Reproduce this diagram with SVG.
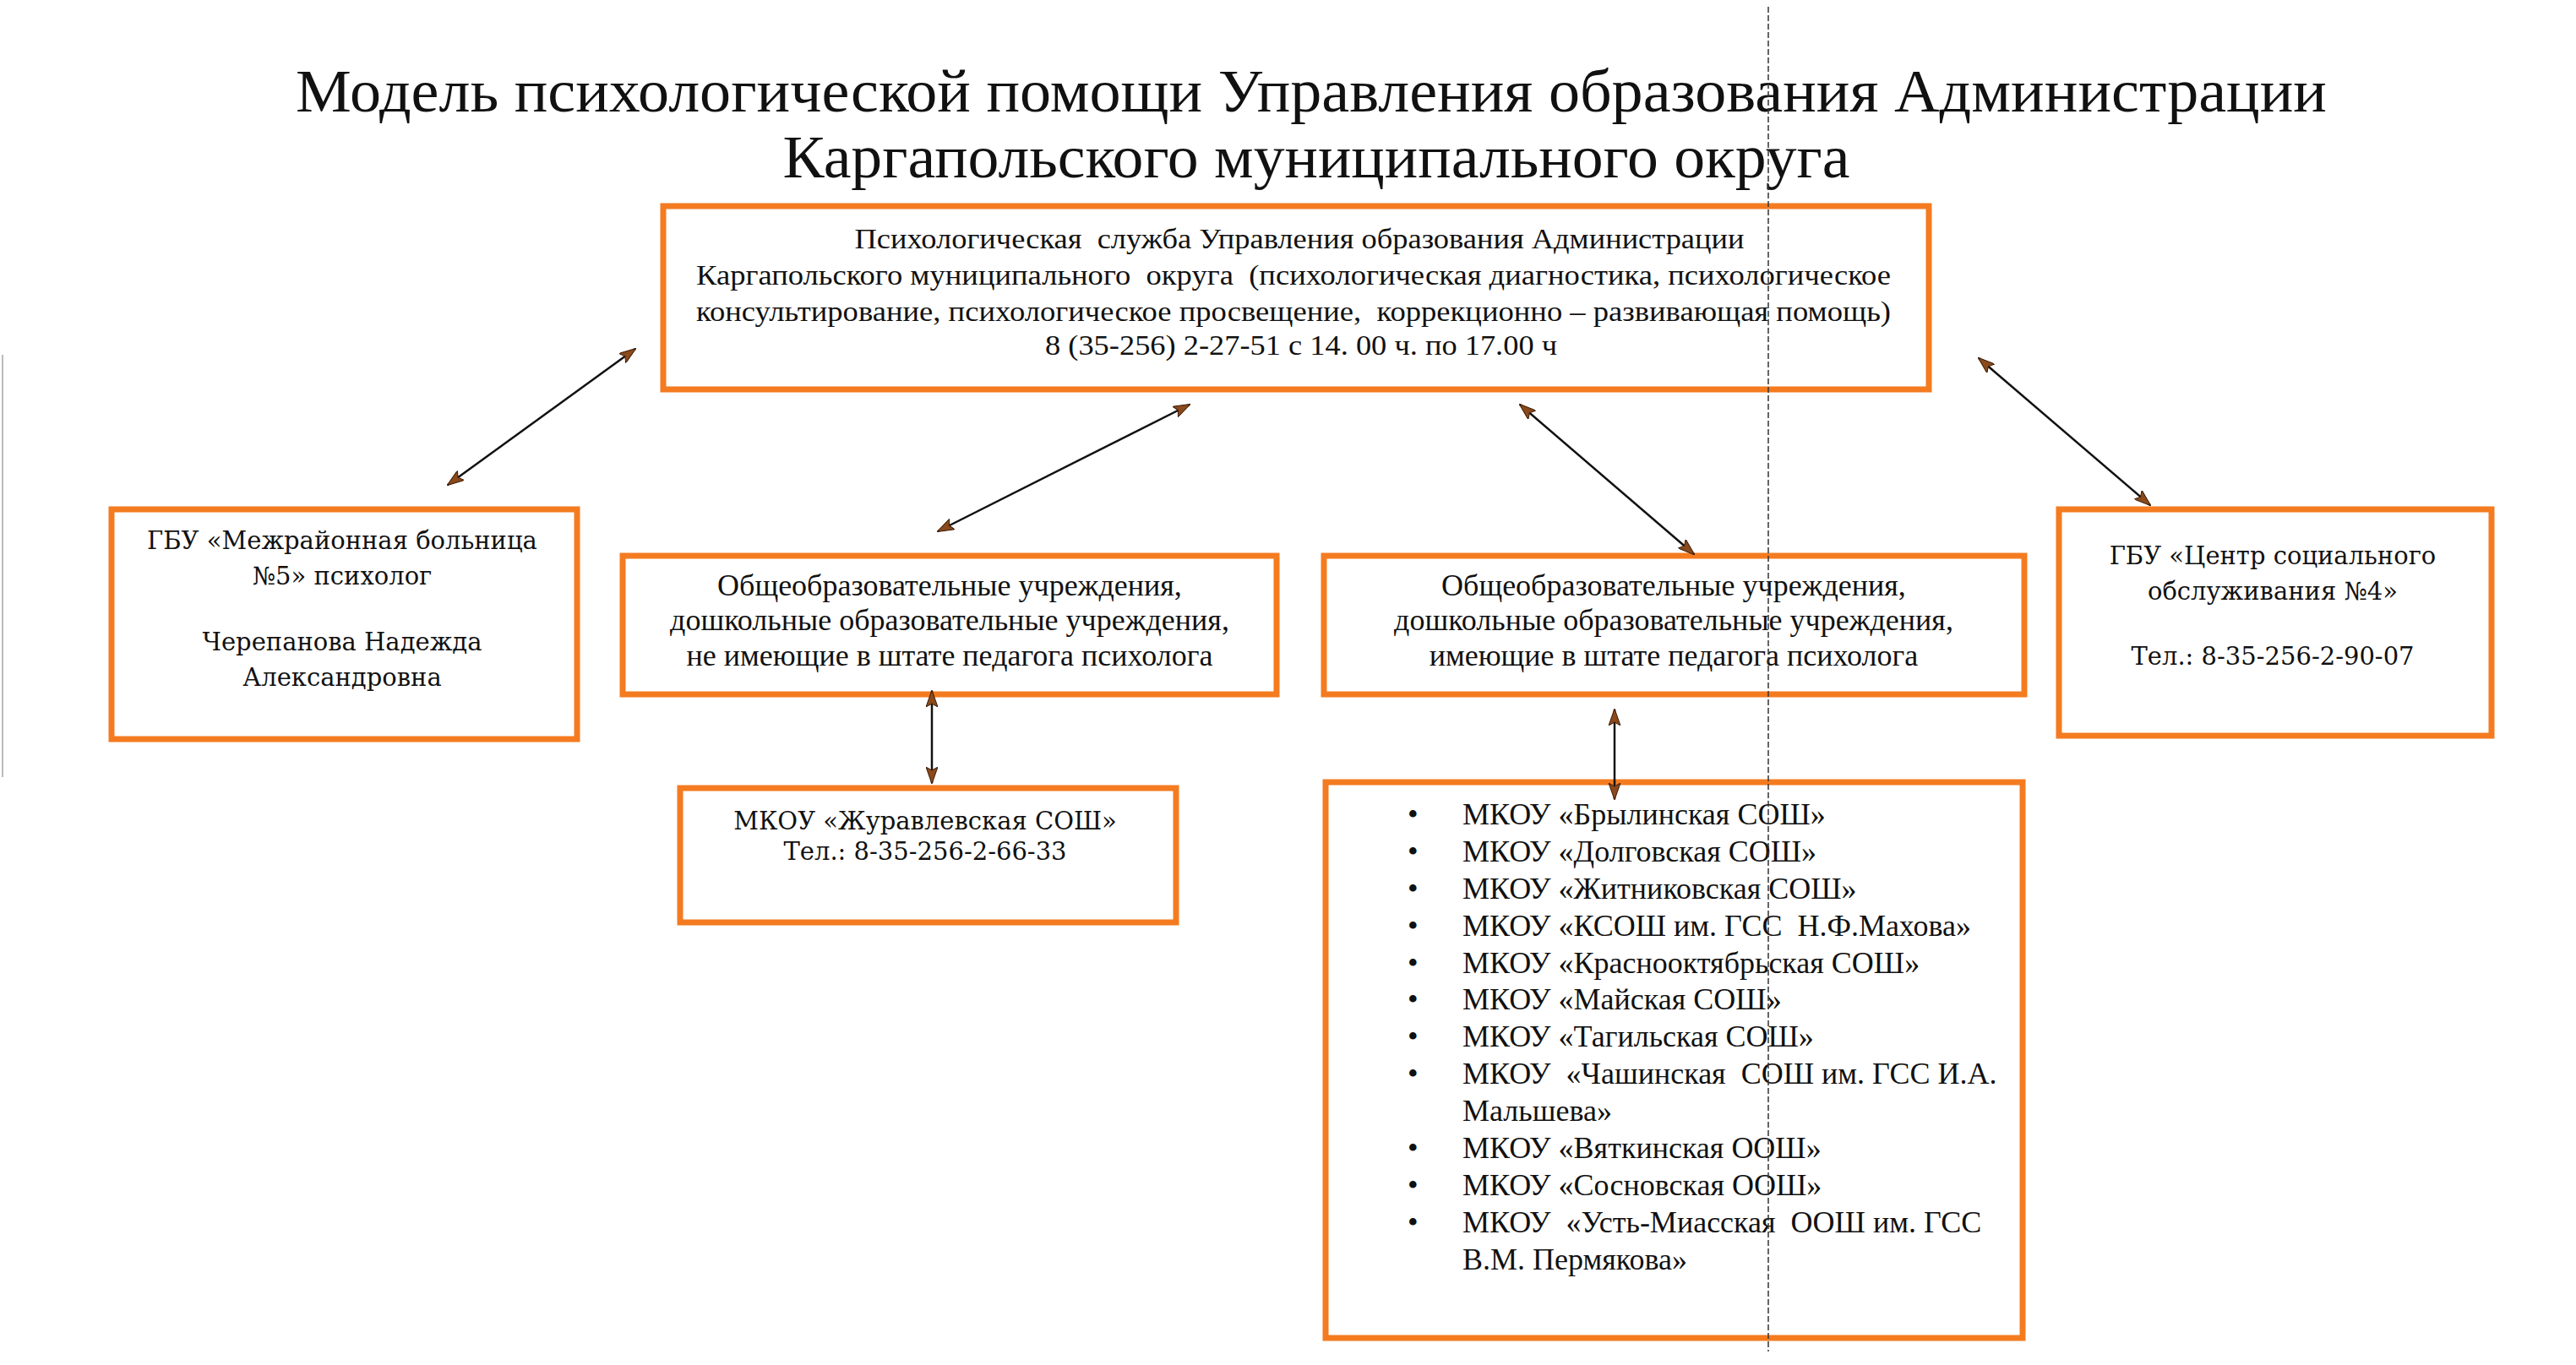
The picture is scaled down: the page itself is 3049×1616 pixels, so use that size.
<svg xmlns="http://www.w3.org/2000/svg" width="3049" height="1616" viewBox="0 0 3049 1616">
<defs>
<style>
.box{fill:#ffffff;stroke:#f47b20;stroke-width:7}
.t{font-family:"Liberation Serif","Times New Roman",serif;fill:#111;text-anchor:middle;white-space:pre}
.s{font-family:"DejaVu Serif","Liberation Serif",serif;fill:#111;text-anchor:middle}
.title{font-size:72px}
.main{font-size:34px}
.mid{font-size:36px}
.slab{font-size:29px}
.li{font-family:"Liberation Serif","Times New Roman",serif;fill:#111;font-size:36px;white-space:pre}
.conn{stroke:#111;stroke-width:2.5;fill:none;marker-start:url(#ah);marker-end:url(#ah)}
</style>
<marker id="ah" viewBox="0 0 20 14" refX="19" refY="7" markerWidth="20" markerHeight="14" markerUnits="userSpaceOnUse" orient="auto-start-reverse">
<path d="M0,0 L20,7 L0,14 L4,7 z" fill="#8a4a1c" stroke="#3a1a00" stroke-width="1"/>
</marker>
</defs>
<rect x="0" y="0" width="3049" height="1616" fill="#ffffff"/>

<g id="title">
<text class="t title" x="1552" y="132" textLength="2404" lengthAdjust="spacingAndGlyphs">Модель психологической помощи Управления образования Администрации</text>
<text class="t title" x="1558" y="210" textLength="1263" lengthAdjust="spacingAndGlyphs">Каргапольского муниципального округа</text>
</g>

<g id="node-main">
<rect class="box" x="785" y="244" width="1498" height="217"/>
<text class="t main" x="1538" y="294" textLength="1053" lengthAdjust="spacingAndGlyphs" xml:space="preserve">Психологическая  служба Управления образования Администрации</text>
<text class="t main" x="1531" y="337" textLength="1414" lengthAdjust="spacingAndGlyphs" xml:space="preserve">Каргапольского муниципального  округа  (психологическая диагностика, психологическое</text>
<text class="t main" x="1531" y="380" textLength="1414" lengthAdjust="spacingAndGlyphs" xml:space="preserve">консультирование, психологическое просвещение,  коррекционно – развивающая помощь)</text>
<text class="t main" x="1540" y="420" textLength="606" lengthAdjust="spacingAndGlyphs">8 (35-256) 2-27-51 с 14. 00 ч. по 17.00 ч</text>
</g>

<g id="node-hospital">
<rect class="box" x="132" y="603" width="551" height="272"/>
<text class="s slab" x="405" y="650">ГБУ «Межрайонная больница</text>
<text class="s slab" x="405" y="692">№5» психолог</text>
<text class="s slab" x="405" y="770">Черепанова Надежда</text>
<text class="s slab" x="405" y="812">Александровна</text>
</g>

<g id="node-no-psych">
<rect class="box" x="737" y="658" width="774" height="164"/>
<text class="t mid" x="1124" y="705">Общеобразовательные учреждения,</text>
<text class="t mid" x="1124" y="746">дошкольные образовательные учреждения,</text>
<text class="t mid" x="1124" y="788">не имеющие в штате педагога психолога</text>
</g>

<g id="node-with-psych">
<rect class="box" x="1567" y="658" width="829" height="164"/>
<text class="t mid" x="1981" y="705">Общеобразовательные учреждения,</text>
<text class="t mid" x="1981" y="746">дошкольные образовательные учреждения,</text>
<text class="t mid" x="1981" y="788">имеющие в штате педагога психолога</text>
</g>

<g id="node-social">
<rect class="box" x="2437" y="603" width="512" height="268"/>
<text class="s slab" x="2690" y="668">ГБУ «Центр социального</text>
<text class="s slab" x="2690" y="710">обслуживания №4»</text>
<text class="s slab" x="2690" y="787">Тел.: 8-35-256-2-90-07</text>
</g>

<g id="node-zhuravlev">
<rect class="box" x="805" y="933" width="587" height="159"/>
<text class="s slab" x="1095" y="982">МКОУ «Журавлевская СОШ»</text>
<text class="s slab" x="1095" y="1018">Тел.: 8-35-256-2-66-33</text>
</g>

<g id="node-schools">
<rect class="box" x="1569" y="926" width="825" height="658"/>
<g class="li">
<text x="1666" y="976">•</text><text x="1731" y="976">МКОУ «Брылинская СОШ»</text>
<text x="1666" y="1020">•</text><text x="1731" y="1020">МКОУ «Долговская СОШ»</text>
<text x="1666" y="1064">•</text><text x="1731" y="1064">МКОУ «Житниковская СОШ»</text>
<text x="1666" y="1108">•</text><text x="1731" y="1108" xml:space="preserve">МКОУ «КСОШ им. ГСС  Н.Ф.Махова»</text>
<text x="1666" y="1152">•</text><text x="1731" y="1152">МКОУ «Краснооктябрьская СОШ»</text>
<text x="1666" y="1195">•</text><text x="1731" y="1195">МКОУ «Майская СОШ»</text>
<text x="1666" y="1239">•</text><text x="1731" y="1239">МКОУ «Тагильская СОШ»</text>
<text x="1666" y="1283">•</text><text x="1731" y="1283" xml:space="preserve">МКОУ  «Чашинская  СОШ им. ГСС И.А.</text>
<text x="1731" y="1327">Мальшева»</text>
<text x="1666" y="1371">•</text><text x="1731" y="1371">МКОУ «Вяткинская ООШ»</text>
<text x="1666" y="1415">•</text><text x="1731" y="1415">МКОУ «Сосновская ООШ»</text>
<text x="1666" y="1459">•</text><text x="1731" y="1459" xml:space="preserve">МКОУ  «Усть-Миасская  ООШ им. ГСС</text>
<text x="1731" y="1503">В.М. Пермякова»</text>
</g>
</g>

<g id="connectors">
<line class="conn" x1="752" y1="413" x2="530" y2="574"/>
<line class="conn" x1="1408" y1="479" x2="1110" y2="629"/>
<line class="conn" x1="1799" y1="479" x2="2005" y2="656"/>
<line class="conn" x1="2342" y1="424" x2="2545" y2="598"/>
<line class="conn" x1="1103" y1="818" x2="1103" y2="927"/>
<line class="conn" x1="1911" y1="840" x2="1911" y2="946"/>
</g>

<g id="guide">
<line x1="2093" y1="8" x2="2093" y2="1600" stroke="#333" stroke-width="1.5" stroke-dasharray="7 3"/>
<line x1="3" y1="420" x2="3" y2="920" stroke="#bbb" stroke-width="2"/>
</g>
</svg>
